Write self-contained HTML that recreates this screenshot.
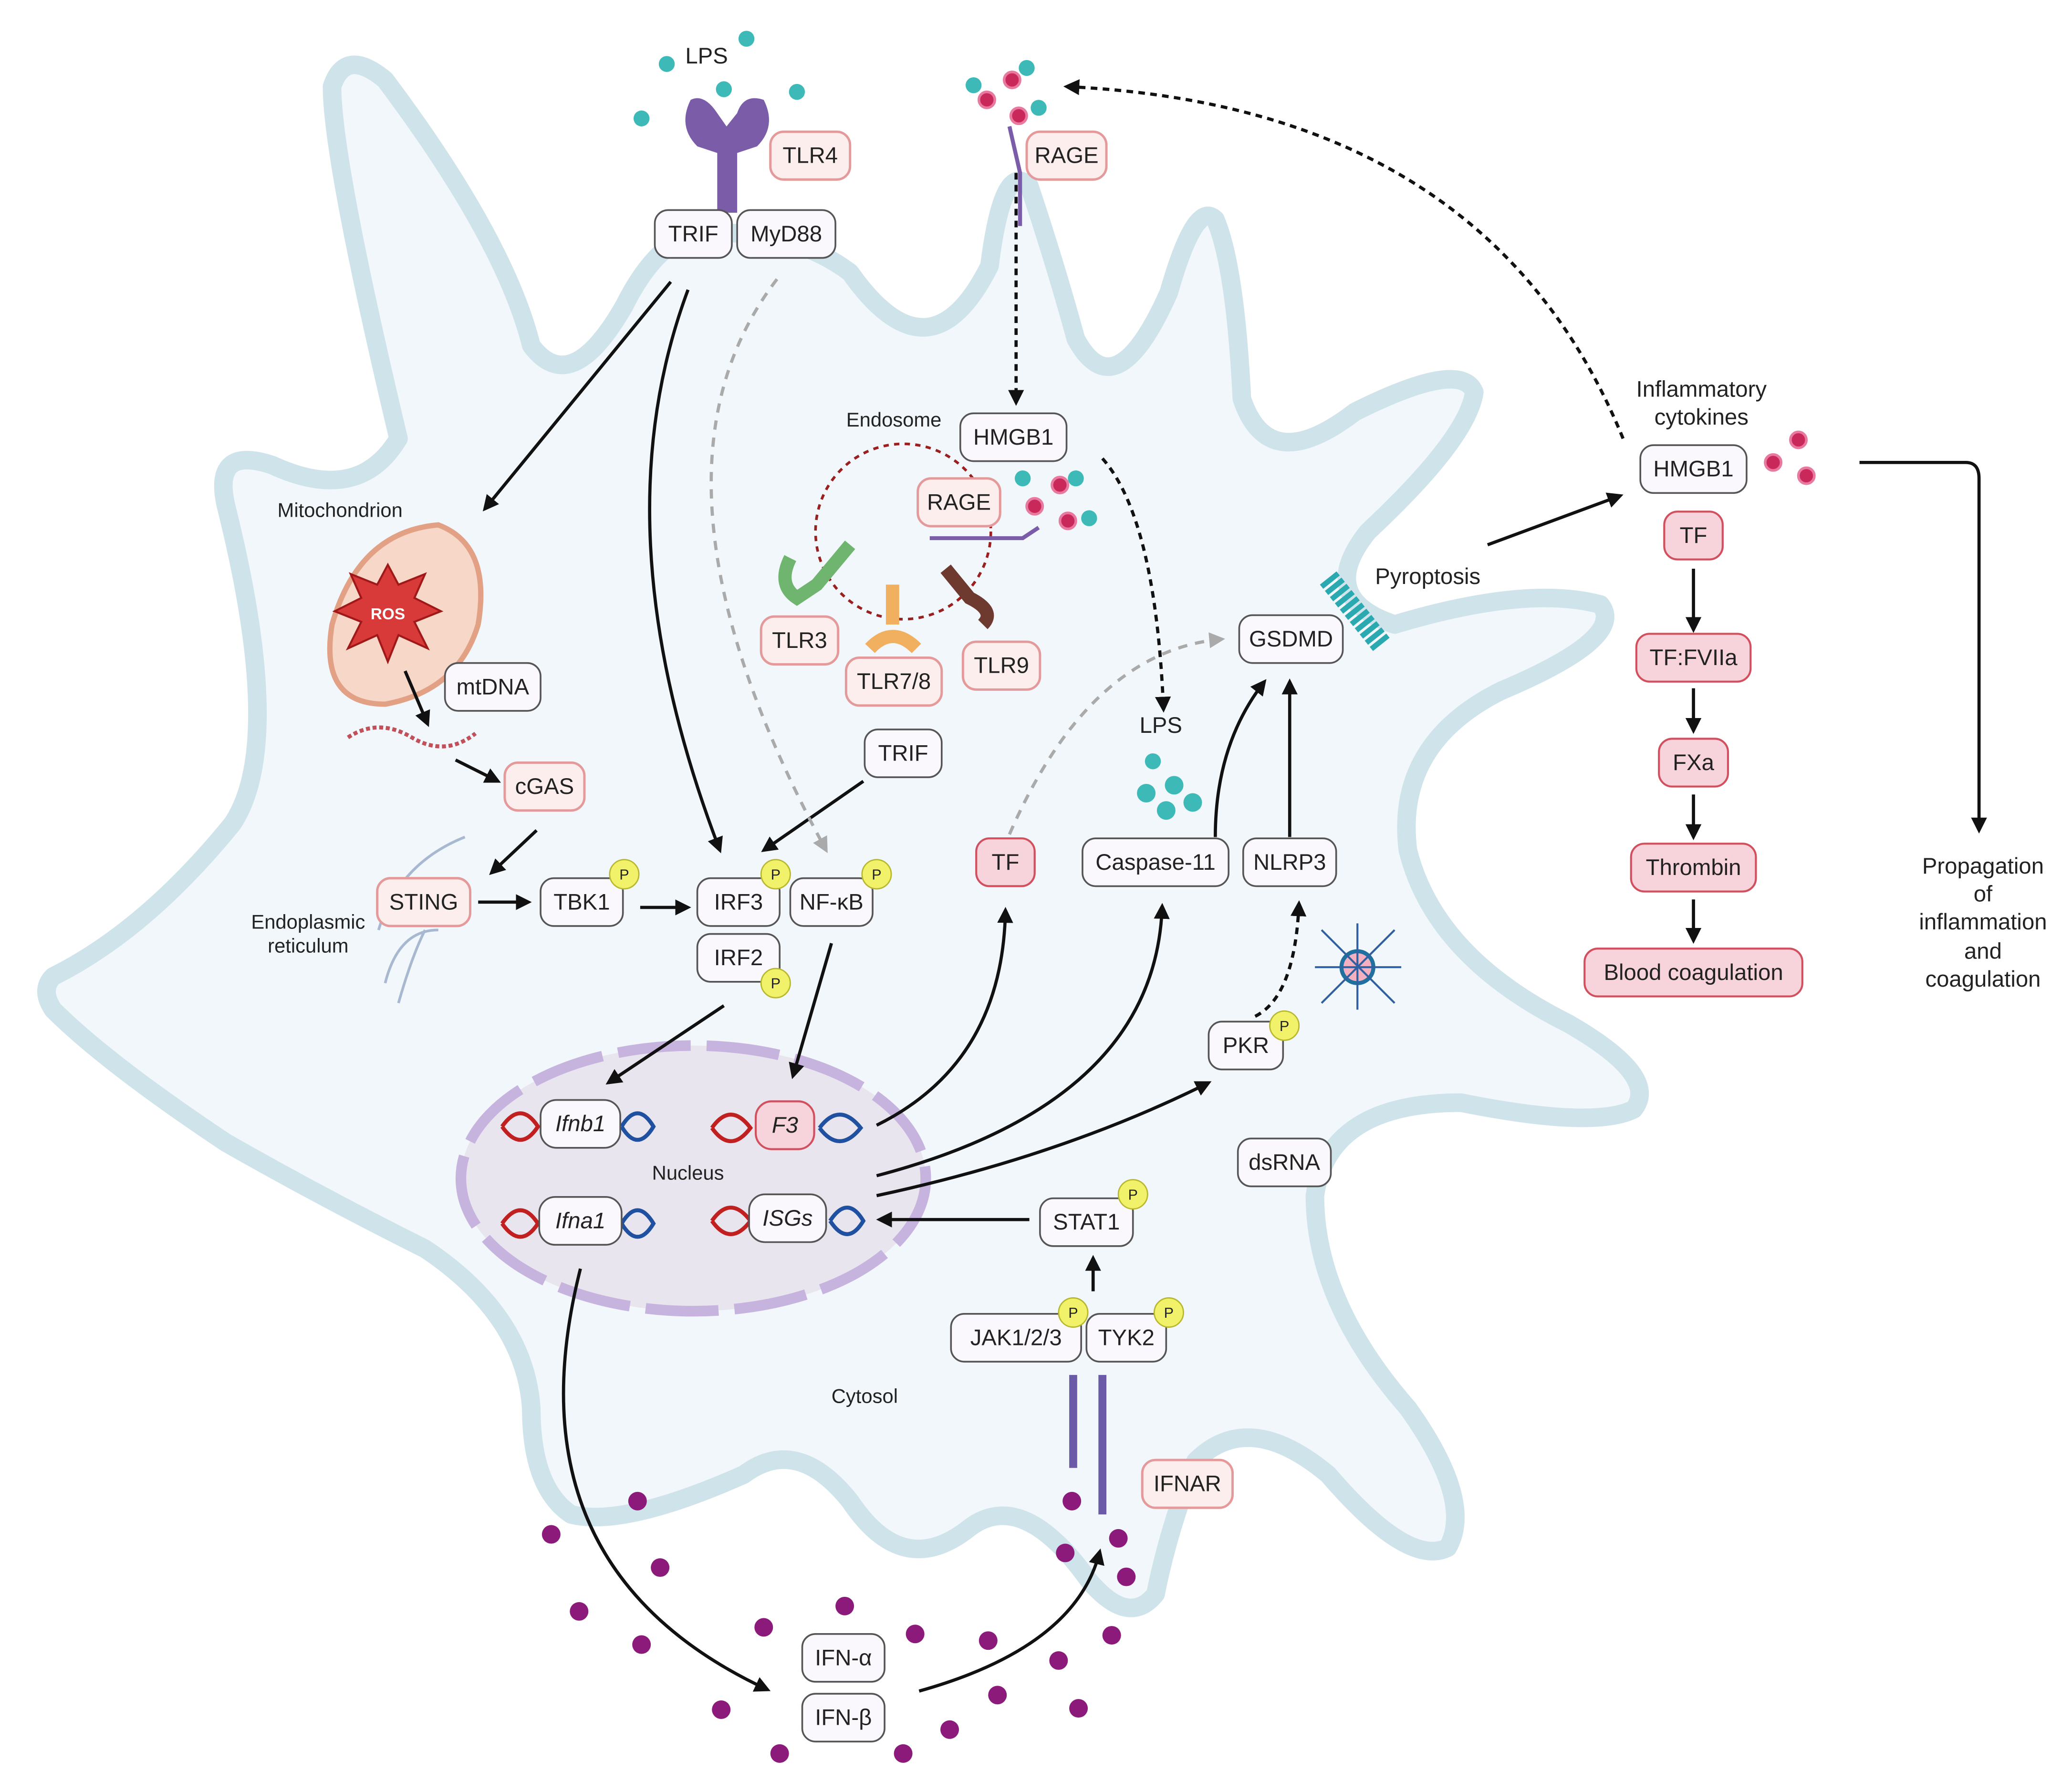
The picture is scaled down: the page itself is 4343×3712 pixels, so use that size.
<!DOCTYPE html>
<html><head><meta charset="utf-8"><style>
html,body{margin:0;padding:0;background:#fff}
svg{display:block}
text{font-family:"Liberation Sans",sans-serif;fill:#222}
.b{fill:#fbf8fd;stroke:#555;stroke-width:1.3}
.pk{fill:#fdeeee;stroke:#e49a9a;stroke-width:1.8}
.rd{fill:#f7d3db;stroke:#d2505e;stroke-width:1.5}
.t{font-size:17px;text-anchor:middle;dominant-baseline:central}
.s{font-size:15px;text-anchor:middle}
.a{fill:none;stroke:#111;stroke-width:2.4;marker-end:url(#ah)}
.d{fill:none;stroke:#111;stroke-width:2.4;stroke-dasharray:5 4;marker-end:url(#ah)}
.g{fill:none;stroke:#aaa;stroke-width:2.4;stroke-dasharray:7 6;marker-end:url(#ahg)}
.p{fill:#f2f26a;stroke:#b8b830;stroke-width:1}
</style></head><body>
<svg width="4343" height="3712" viewBox="0 0 1560 1333" xmlns="http://www.w3.org/2000/svg">
<defs>
<marker id="ah" viewBox="0 0 10 10" refX="8" refY="5" markerWidth="5" markerHeight="5" orient="auto"><path d="M0 0L10 5L0 10z" fill="#111"/></marker>
<marker id="ahg" viewBox="0 0 10 10" refX="8" refY="5" markerWidth="5" markerHeight="5" orient="auto"><path d="M0 0L10 5L0 10z" fill="#aaa"/></marker>
</defs>
<!-- cell -->
<path d="M40 735 Q110 700 175 620 Q215 560 170 380 Q160 335 205 350 Q270 380 300 330 Q250 120 250 65 Q260 35 290 60 Q380 180 400 260 Q430 300 470 230 Q500 170 540 175 Q600 175 640 205 Q700 290 745 200 Q755 120 775 140 Q795 200 810 255 Q840 310 880 220 Q900 150 915 165 Q930 200 935 300 Q955 360 1020 310 Q1100 270 1110 295 Q1105 330 1030 400 Q990 450 1050 470 Q1150 440 1205 455 Q1225 480 1130 520 Q1050 560 1060 640 Q1080 720 1180 770 Q1250 810 1230 835 Q1200 850 1100 830 Q1000 830 990 900 Q990 980 1060 1060 Q1110 1130 1090 1165 Q1060 1180 1000 1110 Q940 1060 900 1100 Q880 1150 870 1200 Q850 1225 820 1190 Q770 1120 730 1150 Q680 1190 640 1130 Q600 1080 560 1110 Q470 1150 430 1140 Q400 1120 400 1060 Q395 990 320 940 Q240 900 170 860 Q80 800 40 760 Q30 745 40 735 Z" fill="#f1f7fa" stroke="#cfe3ea" stroke-width="14" stroke-linejoin="round"/>
<!-- nucleus -->
<ellipse cx="522" cy="887" rx="175" ry="100" fill="#e9e5ee" stroke="#c6b4df" stroke-width="8" stroke-dasharray="55 12"/>
<!-- endosome -->
<circle cx="680" cy="400" r="66" fill="none" stroke="#9a2020" stroke-width="2" stroke-dasharray="4 4"/>
<!-- mitochondrion -->
<path d="M250 470 Q270 400 330 395 Q370 410 360 470 Q345 520 290 530 Q240 530 250 470Z" fill="#f6d7c8" stroke="#e2a085" stroke-width="4"/>
<polygon points="292,425 300,440 320,432 312,450 332,460 312,468 322,488 300,478 292,498 284,478 262,488 272,468 252,460 272,450 264,432 284,440" fill="#d83a3a" stroke="#a01818" stroke-width="1.5"/>
<text x="292" y="466" style="font-size:12px;font-weight:bold;fill:#fff" text-anchor="middle">ROS</text>
<path d="M262 555 Q285 540 310 555 Q335 570 358 552" fill="none" stroke="#c0505a" stroke-width="3" stroke-dasharray="3 2"/>
<!-- ER -->
<path d="M285 700 Q300 650 350 630 M290 740 Q300 700 330 700 M300 755 Q310 720 320 700" fill="none" stroke="#a8b8d0" stroke-width="2"/>
<!-- TLR4 receptor -->
<path d="M520 75 Q510 95 525 110 L540 115 L540 160 L555 160 L555 115 L570 110 Q585 95 575 75 Q560 70 555 85 L547 95 L540 85 Q530 70 520 75Z" fill="#7a5ca8"/>
<!-- dots -->
<g fill="#3dbab8"><circle cx="502" cy="48" r="6"/><circle cx="562" cy="29" r="6"/><circle cx="483" cy="89" r="6"/><circle cx="545" cy="67" r="6"/><circle cx="600" cy="69" r="6"/>
<circle cx="733" cy="64" r="6"/><circle cx="773" cy="51" r="6"/><circle cx="782" cy="81" r="6"/><circle cx="770" cy="360" r="6"/><circle cx="810" cy="360" r="6"/><circle cx="820" cy="390" r="6"/>
<circle cx="868" cy="573" r="6"/><circle cx="884" cy="591" r="7"/><circle cx="863" cy="597" r="7"/><circle cx="898" cy="604" r="7"/><circle cx="878" cy="610" r="7"/></g>
<g fill="#c8285a" stroke="#e87aa0" stroke-width="2"><circle cx="743" cy="75" r="6"/><circle cx="762" cy="60" r="6"/><circle cx="767" cy="87" r="6"/><circle cx="779" cy="381" r="6"/><circle cx="798" cy="365" r="6"/><circle cx="804" cy="392" r="6"/><circle cx="1354" cy="331" r="6"/><circle cx="1335" cy="348" r="6"/><circle cx="1360" cy="358" r="6"/></g>
<g fill="#8b1a7a"><circle cx="480" cy="1130" r="7"/><circle cx="415" cy="1155" r="7"/><circle cx="497" cy="1180" r="7"/><circle cx="436" cy="1213" r="7"/><circle cx="483" cy="1238" r="7"/><circle cx="575" cy="1225" r="7"/><circle cx="636" cy="1209" r="7"/><circle cx="689" cy="1230" r="7"/><circle cx="744" cy="1235" r="7"/><circle cx="797" cy="1250" r="7"/><circle cx="837" cy="1231" r="7"/><circle cx="848" cy="1187" r="7"/><circle cx="802" cy="1169" r="7"/><circle cx="807" cy="1130" r="7"/><circle cx="842" cy="1158" r="7"/><circle cx="543" cy="1287" r="7"/><circle cx="587" cy="1320" r="7"/><circle cx="680" cy="1320" r="7"/><circle cx="715" cy="1302" r="7"/><circle cx="751" cy="1276" r="7"/><circle cx="812" cy="1286" r="7"/></g>
<!-- receptors -->
<path d="M760 95 L768 130 L768 170" stroke="#7a5ca8" stroke-width="3" fill="none"/>
<path d="M808 1035 L808 1105 M830 1035 L830 1140" stroke="#6a5aa8" stroke-width="6" fill="none"/>
<path d="M700 405 L770 405 L782 397" stroke="#7a5ca8" stroke-width="3" fill="none"/>
<path d="M595 420 Q585 440 600 450 L615 440 L640 410" stroke="#6fb56f" stroke-width="10" fill="none"/>
<path d="M672 440 L672 470 M655 488 Q672 470 690 488" stroke="#f0b060" stroke-width="10" fill="none"/>
<path d="M712 428 L730 450 Q750 460 740 470" stroke="#6e3a30" stroke-width="10" fill="none"/>
<path d="M1000 435 L1040 485" stroke="#2aaab0" stroke-width="16" stroke-dasharray="4 2" fill="none"/>
<circle cx="1022" cy="728" r="12" fill="#f3b0c0" stroke="#1f6f9f" stroke-width="3"/>
<g stroke="#3060a0" stroke-width="1.5"><path d="M995 700 L1050 755 M1050 700 L995 755 M1022 695 L1022 760 M990 728 L1055 728"/></g>
<!-- arrows -->
<path class="a" d="M505 212 L365 383"/>
<path class="a" d="M518 218 Q450 400 542 640"/>
<path class="a" d="M650 588 L575 640"/>
<path class="a" d="M360 679 L398 679"/>
<path class="a" d="M482 683 L518 683"/>
<path class="a" d="M404 625 L370 657"/>
<path class="a" d="M305 505 L322 545"/>
<path class="a" d="M343 572 L375 588"/>
<path class="a" d="M545 757 L458 815"/>
<path class="a" d="M626 710 L597 810"/>
<path class="a" d="M660 847 Q755 800 757 685"/>
<path class="a" d="M660 885 Q870 830 875 682"/>
<path class="a" d="M660 900 Q800 870 910 815"/>
<path class="a" d="M775 918 L662 918"/>
<path class="a" d="M823 972 L823 947"/>
<path class="a" d="M915 630 Q915 560 952 513"/>
<path class="a" d="M971 630 L971 513"/>
<path class="d" d="M945 765 Q975 750 978 680"/>
<path class="a" d="M437 955 Q380 1180 578 1272"/>
<path class="a" d="M692 1273 Q810 1240 828 1168"/>
<path class="a" d="M1120 410 L1220 373"/>
<path class="a" d="M1275 428 L1275 474"/>
<path class="a" d="M1275 518 L1275 550"/>
<path class="a" d="M1275 598 L1275 630"/>
<path class="a" d="M1275 677 L1275 708"/>
<path class="a" d="M1400 348 L1480 348 Q1490 348 1490 360 L1490 625"/>
<path class="d" d="M765 130 L765 303"/>
<path class="d" d="M830 345 Q870 390 876 534"/>
<path class="d" d="M1222 330 Q1120 80 803 65"/>
<path class="g" d="M585 210 Q470 360 622 640"/>
<path class="g" d="M760 628 Q820 490 920 481"/>
<!-- boxes -->
<g>
<rect class="pk" x="580" y="99" width="60" height="36" rx="10"/><text class="t" x="610" y="117">TLR4</text>
<rect class="b" x="493" y="158" width="58" height="36" rx="10"/><text class="t" x="522" y="176">TRIF</text>
<rect class="b" x="555" y="158" width="74" height="36" rx="10"/><text class="t" x="592" y="176">MyD88</text>
<rect class="pk" x="773" y="99" width="60" height="36" rx="10"/><text class="t" x="803" y="117">RAGE</text>
<rect class="b" x="723" y="311" width="80" height="36" rx="10"/><text class="t" x="763" y="329">HMGB1</text>
<rect class="pk" x="691" y="360" width="62" height="36" rx="10"/><text class="t" x="722" y="378">RAGE</text>
<rect class="pk" x="573" y="464" width="58" height="36" rx="10"/><text class="t" x="602" y="482">TLR3</text>
<rect class="pk" x="637" y="495" width="72" height="36" rx="10"/><text class="t" x="673" y="513">TLR7/8</text>
<rect class="pk" x="725" y="483" width="58" height="36" rx="10"/><text class="t" x="754" y="501">TLR9</text>
<rect class="b" x="335" y="499" width="72" height="36" rx="10"/><text class="t" x="371" y="517">mtDNA</text>
<rect class="pk" x="380" y="574" width="60" height="36" rx="10"/><text class="t" x="410" y="592">cGAS</text>
<rect class="pk" x="284" y="661" width="70" height="36" rx="10"/><text class="t" x="319" y="679">STING</text>
<rect class="b" x="407" y="661" width="62" height="36" rx="10"/><text class="t" x="438" y="679">TBK1</text>
<rect class="b" x="525" y="661" width="62" height="36" rx="10"/><text class="t" x="556" y="679">IRF3</text>
<rect class="b" x="595" y="661" width="62" height="36" rx="10"/><text class="t" x="626" y="679">NF-κB</text>
<rect class="b" x="525" y="703" width="62" height="36" rx="10"/><text class="t" x="556" y="721">IRF2</text>
<rect class="b" x="651" y="549" width="58" height="36" rx="10"/><text class="t" x="680" y="567">TRIF</text>
<rect class="rd" x="735" y="631" width="44" height="36" rx="10"/><text class="t" x="757" y="649">TF</text>
<rect class="b" x="815" y="631" width="110" height="36" rx="10"/><text class="t" x="870" y="649">Caspase-11</text>
<rect class="b" x="936" y="631" width="70" height="36" rx="10"/><text class="t" x="971" y="649">NLRP3</text>
<rect class="b" x="933" y="463" width="78" height="36" rx="10"/><text class="t" x="972" y="481">GSDMD</text>
<rect class="b" x="910" y="769" width="56" height="36" rx="10"/><text class="t" x="938" y="787">PKR</text>
<rect class="b" x="932" y="857" width="70" height="36" rx="10"/><text class="t" x="967" y="875">dsRNA</text>
<rect class="b" x="783" y="902" width="70" height="36" rx="10"/><text class="t" x="818" y="920">STAT1</text>
<rect class="b" x="716" y="989" width="98" height="36" rx="10"/><text class="t" x="765" y="1007">JAK1/2/3</text>
<rect class="b" x="818" y="989" width="60" height="36" rx="10"/><text class="t" x="848" y="1007">TYK2</text>
<rect class="pk" x="860" y="1099" width="68" height="36" rx="10"/><text class="t" x="894" y="1117">IFNAR</text>
<rect class="b" x="604" y="1230" width="62" height="36" rx="10"/><text class="t" x="635" y="1248">IFN-α</text>
<rect class="b" x="604" y="1275" width="62" height="36" rx="10"/><text class="t" x="635" y="1293">IFN-β</text>
<rect class="b" x="1235" y="335" width="80" height="36" rx="10"/><text class="t" x="1275" y="353">HMGB1</text>
<rect class="rd" x="1253" y="385" width="44" height="36" rx="10"/><text class="t" x="1275" y="403">TF</text>
<rect class="rd" x="1232" y="477" width="86" height="36" rx="10"/><text class="t" x="1275" y="495">TF:FVIIa</text>
<rect class="rd" x="1249" y="556" width="52" height="36" rx="10"/><text class="t" x="1275" y="574">FXa</text>
<rect class="rd" x="1228" y="635" width="94" height="36" rx="10"/><text class="t" x="1275" y="653">Thrombin</text>
<rect class="rd" x="1193" y="714" width="164" height="36" rx="10"/><text class="t" x="1275" y="732">Blood coagulation</text>
</g>
<!-- DNA + genes -->
<g stroke-width="3" fill="none">
<path d="M378 848 Q392 828 405 848 Q392 868 378 848" stroke="#c02020"/><path d="M468 848 Q480 828 492 848 Q480 868 468 848" stroke="#2050a0"/>
<path d="M378 921 Q392 901 405 921 Q392 941 378 921" stroke="#c02020"/><path d="M468 921 Q480 901 492 921 Q480 941 468 921" stroke="#2050a0"/>
<path d="M536 849 Q550 829 565 849 Q550 869 536 849" stroke="#c02020"/><path d="M617 849 Q632 829 648 849 Q632 869 617 849" stroke="#2050a0"/>
<path d="M536 919 Q550 899 565 919 Q550 939 536 919" stroke="#c02020"/><path d="M625 919 Q638 899 650 919 Q638 939 625 919" stroke="#2050a0"/>
</g>
<rect class="b" x="407" y="828" width="60" height="36" rx="12"/><text class="t" x="437" y="846" font-style="italic">Ifnb1</text>
<rect class="rd" x="569" y="829" width="44" height="36" rx="12"/><text class="t" x="591" y="847" font-style="italic">F3</text>
<rect class="b" x="406" y="901" width="62" height="36" rx="12"/><text class="t" x="437" y="919" font-style="italic">Ifna1</text>
<rect class="b" x="564" y="899" width="58" height="36" rx="12"/><text class="t" x="593" y="917" font-style="italic">ISGs</text>
<!-- P badges -->
<g><circle class="p" cx="470" cy="658" r="11"/><circle class="p" cx="584" cy="658" r="11"/><circle class="p" cx="660" cy="658" r="11"/><circle class="p" cx="584" cy="740" r="11"/><circle class="p" cx="967" cy="772" r="11"/><circle class="p" cx="853" cy="899" r="11"/><circle class="p" cx="808" cy="988" r="11"/><circle class="p" cx="880" cy="988" r="11"/></g>
<g style="font-size:11px" text-anchor="middle"><text x="470" y="662">P</text><text x="584" y="662">P</text><text x="660" y="662">P</text><text x="584" y="744">P</text><text x="967" y="776">P</text><text x="853" y="903">P</text><text x="808" y="992">P</text><text x="880" y="992">P</text></g>
<!-- labels -->
<text class="t" x="532" y="42">LPS</text>
<text class="s" x="256" y="389">Mitochondrion</text>
<text class="s" x="673" y="321">Endosome</text>
<text class="s" x="232" y="699">Endoplasmic</text><text class="s" x="232" y="717">reticulum</text>
<text class="s" x="518" y="888">Nucleus</text>
<text class="s" x="651" y="1056">Cytosol</text>
<text class="t" x="874" y="546">LPS</text>
<text class="t" x="1075" y="434">Pyroptosis</text>
<text class="t" x="1281" y="293">Inflammatory</text><text class="t" x="1281" y="314">cytokines</text>
<g class="t"><text class="t" x="1493" y="652">Propagation</text><text class="t" x="1493" y="673">of</text><text class="t" x="1493" y="694">inflammation</text><text class="t" x="1493" y="716">and</text><text class="t" x="1493" y="737">coagulation</text></g>
</svg>
</body></html>
